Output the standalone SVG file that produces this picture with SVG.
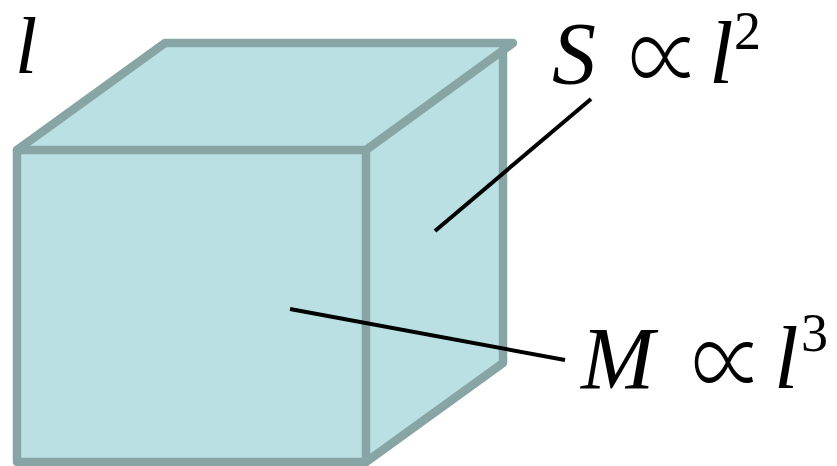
<svg xmlns="http://www.w3.org/2000/svg" width="837" height="466" viewBox="0 0 837 466">
<style>
.face{fill:#bae0e3;stroke:none}
.edge{fill:none;stroke:#88a5a6;stroke-width:8.5;stroke-linejoin:round;stroke-linecap:round}
.lead{stroke:#000;stroke-width:4;fill:none}
.it{font-family:"Liberation Serif","DejaVu Serif",serif;font-style:italic;font-size:88px;fill:#000}
.rm{font-family:"Noto Sans CJK JP","DejaVu Sans",sans-serif;font-weight:300;font-size:72px;fill:#000}
.sup{font-family:"Liberation Serif","DejaVu Serif",serif;font-size:54px;fill:#000}
</style>
<g id="cube">
<polygon class="face" points="17,150 165,43 513,43 503,50 503,363 366,462 17,462"/>
<path class="edge" d="M17,462 L17,150 L366,150 L366,462 Z"/>
<path class="edge" d="M17,150 L165,43 L513,43 L366,150"/>
<path class="edge" d="M503,50 L503,363 L366,462"/>
</g>
<g id="connectors">
<line class="lead" x1="591" y1="99" x2="435" y2="231"/>
<line class="lead" x1="290" y1="309" x2="565" y2="360"/>
</g>
<g id="label-l"><text class="it" x="15" y="73" style="font-size:80px">l</text></g>
<g id="label-S">
<text class="it" x="552" y="83">S</text>
<text class="rm" transform="translate(629,96) scale(1,1.45)">∝</text>
<text class="it" x="709" y="83">l</text>
<text class="sup" x="734" y="49">2</text>
</g>
<g id="label-M">
<text class="it" x="581" y="388">M</text>
<text class="rm" transform="translate(692,401) scale(1,1.45)">∝</text>
<text class="it" x="774" y="388">l</text>
<text class="sup" x="801" y="351">3</text>
</g>
</svg>
